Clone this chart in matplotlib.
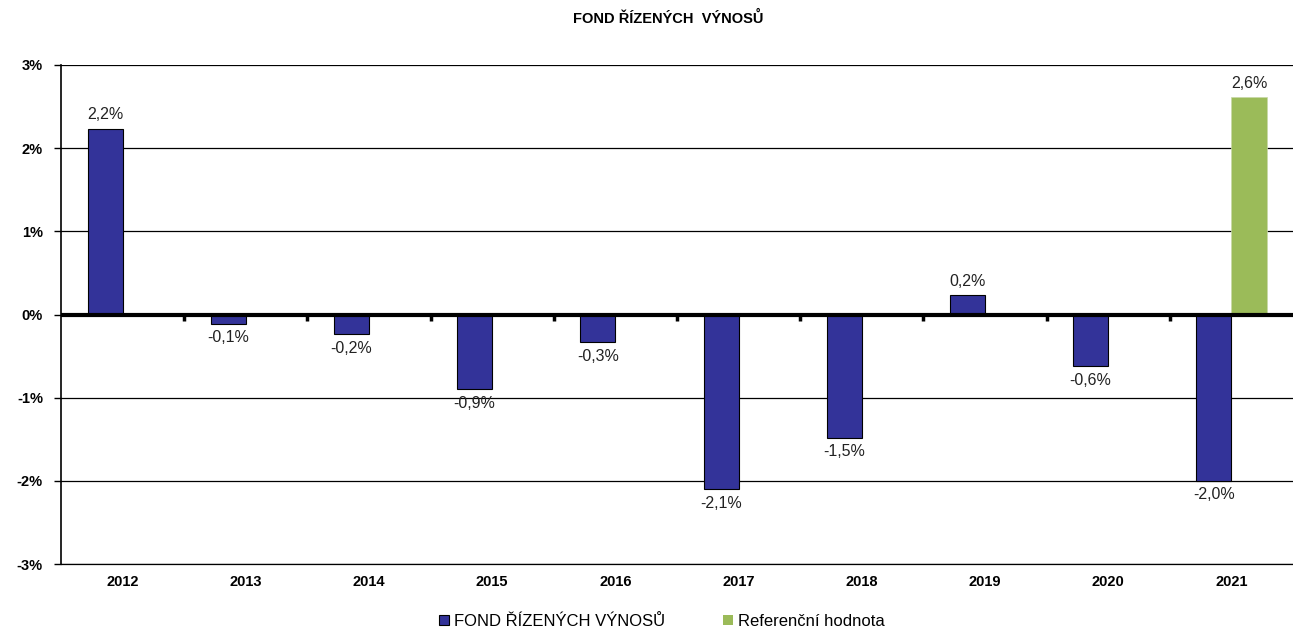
import numpy as np
import matplotlib.pyplot as plt
from matplotlib.patches import Patch

plt.rcParams['font.family'] = ['Liberation Sans', 'DejaVu Sans']

years = ['2012', '2013', '2014', '2015', '2016', '2017', '2018', '2019', '2020', '2021']
fond = [2.23, -0.11, -0.24, -0.9, -0.33, -2.1, -1.48, 0.23, -0.62, -2.0]
ref_year = '2021'
ref_value = 2.61

blue = '#333399'
green = '#9BBB59'

fig = plt.figure(figsize=(12.93, 6.28), dpi=100)
ax = fig.add_axes([0.0472, 0.1019, 0.9528, 0.7946])

x = np.arange(len(years))
w = 0.285

ax.bar(x - w / 2, fond, width=w, color=blue, edgecolor='black', linewidth=0.8, zorder=3)
ri = years.index(ref_year)
ax.bar(ri + w / 2, ref_value, width=w, color=green, edgecolor='#c8d8a8', linewidth=0.5, zorder=3)


def fmt(v):
    return f'{v:.1f}%'.replace('.', ',')


for i, v in enumerate(fond):
    if v >= 0:
        ax.text(i - w / 2, v + 0.08, fmt(v), ha='center', va='bottom', fontsize=11.5, color='#222222')
    else:
        ax.text(i - w / 2, v - 0.08, fmt(v), ha='center', va='top', fontsize=11.5, color='#222222')
ax.text(ri + w / 2, ref_value + 0.08, fmt(ref_value), ha='center', va='bottom', fontsize=11.5, color='#222222')

ax.set_xlim(-0.5, len(years) - 0.5)
ax.set_ylim(-3, 3)
ax.set_yticks(range(-3, 4))
ax.set_yticklabels([f'{t}%' for t in range(-3, 4)], fontweight='bold', fontsize=10.5)
ax.yaxis.grid(True, color='black', linewidth=0.9, zorder=0)
ax.set_axisbelow(True)
ax.tick_params(axis='y', length=5, width=1, pad=8)

ax.set_xticks(x)
ax.set_xticklabels(years, fontweight='bold', fontsize=10.5)
ax.tick_params(axis='x', length=0, pad=8)

for s in ['top', 'right']:
    ax.spines[s].set_visible(False)
ax.spines['bottom'].set_linewidth(0.9)
ax.spines['left'].set_linewidth(1.2)

# thick zero axis with small ticks at category boundaries (hanging below)
ax.axhline(0, color='black', linewidth=3, zorder=4)
sec = ax.secondary_xaxis(0.5)
sec.set_xticks(np.arange(0.5, len(years) - 0.5, 1.0))
sec.set_xticklabels([])
sec.tick_params(length=4, width=2.5, direction='in')
for s in sec.spines.values():
    s.set_visible(False)

fig.text(0.517, 0.97, 'FOND ŘÍZENÝCH  VÝNOSŮ', ha='center', va='center', fontsize=10.5, fontweight='bold')

handles = [Patch(facecolor=blue, edgecolor='black', linewidth=0.8),
           Patch(facecolor=green, edgecolor='none')]
fig.legend(handles, ['FOND ŘÍZENÝCH VÝNOSŮ', 'Referenční hodnota'], loc='lower center',
           bbox_to_anchor=(0.512, -0.025), ncol=2, frameon=False, fontsize=12,
           handlelength=0.6, handleheight=0.6, handletextpad=0.3, columnspacing=3.5)

fig.savefig('out.png', dpi=100)
